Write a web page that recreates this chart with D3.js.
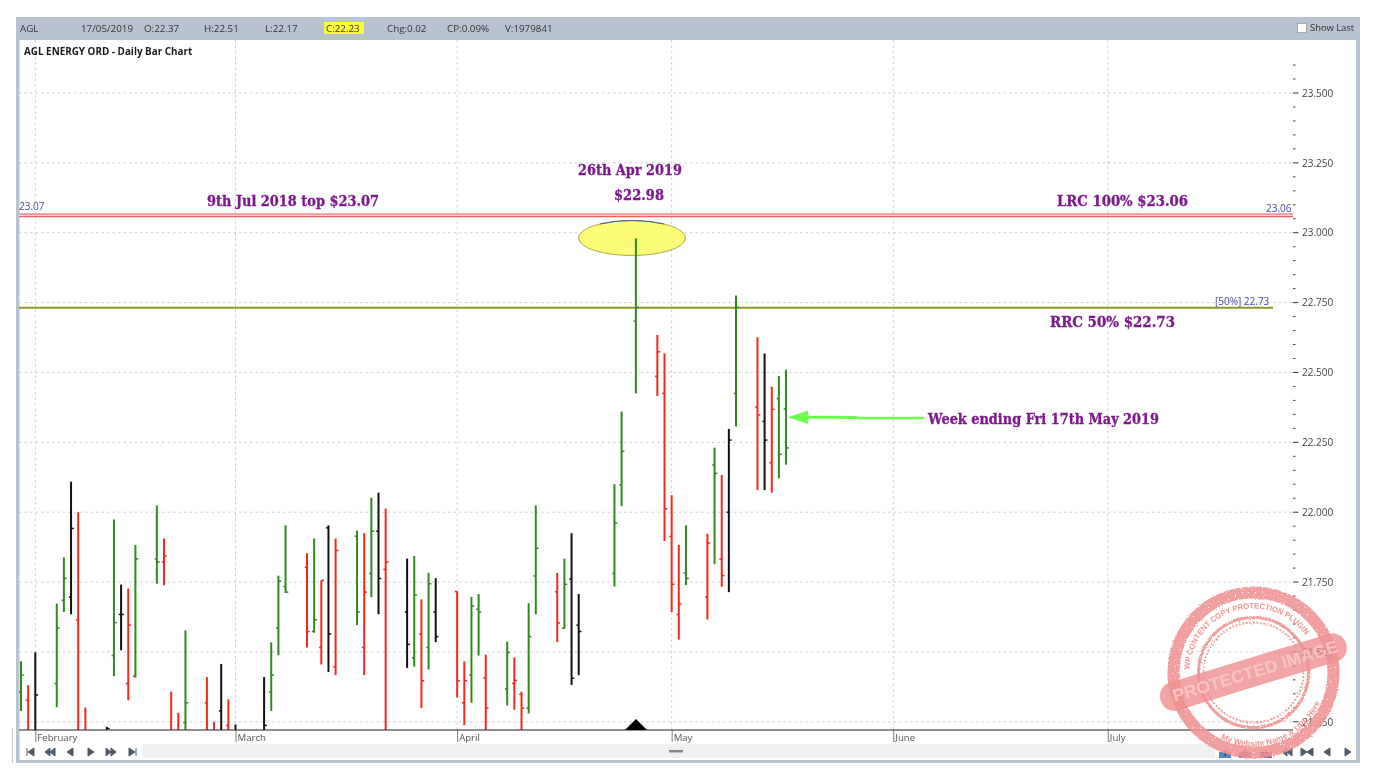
<!DOCTYPE html>
<html><head><meta charset="utf-8">
<script src="https://cdn.jsdelivr.net/npm/d3@7/dist/d3.min.js"></script>
<style>
html,body{margin:0;padding:0;background:#fff;overflow:hidden}
svg{display:block;filter:blur(0.45px)}
text{font-family:"Open Sans","Noto Sans",sans-serif}
</style></head><body><svg id="c" width="1382" height="778"></svg>
<script>
const dates=["2019-01-30","2019-01-31","2019-02-01","2019-02-04","2019-02-05","2019-02-06","2019-02-07","2019-02-08","2019-02-11","2019-02-12","2019-02-13","2019-02-14","2019-02-15","2019-02-18","2019-02-19","2019-02-20","2019-02-21","2019-02-22","2019-02-25","2019-02-26","2019-02-27","2019-02-28","2019-03-01","2019-03-05","2019-03-06","2019-03-07","2019-03-08","2019-03-11","2019-03-12","2019-03-13","2019-03-14","2019-03-15","2019-03-18","2019-03-19","2019-03-20","2019-03-21","2019-03-22","2019-03-25","2019-03-26","2019-03-27","2019-03-28","2019-03-29","2019-04-01","2019-04-02","2019-04-03","2019-04-04","2019-04-05","2019-04-08","2019-04-09","2019-04-10","2019-04-11","2019-04-12","2019-04-15","2019-04-16","2019-04-17","2019-04-18","2019-04-23","2019-04-24","2019-04-26","2019-04-29","2019-04-30","2019-05-01","2019-05-02","2019-05-03","2019-05-06","2019-05-07","2019-05-08","2019-05-09","2019-05-10","2019-05-13","2019-05-14","2019-05-15","2019-05-16","2019-05-17"];
const opens=[21.357,21.327,21.18,21.387,21.685,21.696,21.615,21.19,21.19,21.487,21.634,21.387,21.413,21.833,21.822,21.19,21.19,21.247,21.318,21.19,21.289,21.237,21.19,21.19,21.357,21.586,21.734,21.803,21.573,21.516,21.944,21.447,21.914,21.516,21.781,21.932,21.795,21.643,21.479,21.564,21.516,21.643,21.716,21.318,21.417,21.653,21.407,21.368,21.387,21.348,21.299,21.772,21.715,21.585,21.761,21.596,21.781,22.098,22.684,22.486,22.425,21.913,21.634,21.782,21.696,22.169,21.832,22.0,22.425,22.376,22.325,22.177,22.406,22.37];
const highs=[21.467,21.381,21.499,21.673,21.838,22.109,22.0,21.301,21.232,21.974,21.741,21.727,21.883,22.024,21.906,21.358,21.282,21.577,21.41,21.25,21.457,21.33,21.24,21.41,21.534,21.773,21.953,21.853,21.906,21.756,21.953,21.906,21.934,21.925,22.052,22.07,22.013,21.834,21.844,21.688,21.783,21.764,21.716,21.466,21.697,21.707,21.49,21.537,21.48,21.358,21.674,22.024,21.783,21.834,21.925,21.707,22.1,22.36,22.98,22.634,22.568,22.061,21.883,21.953,21.923,22.231,22.133,22.298,22.775,22.626,22.568,22.449,22.487,22.51];
const lows=[21.289,21.15,21.15,21.302,21.643,21.635,21.15,21.15,21.15,21.413,21.506,21.327,21.408,21.744,21.739,21.15,21.15,21.15,21.15,21.15,21.15,21.15,21.15,21.15,21.289,21.488,21.711,21.516,21.569,21.455,21.428,21.417,21.596,21.417,21.696,21.635,21.15,21.443,21.447,21.299,21.437,21.535,21.337,21.238,21.318,21.487,21.15,21.308,21.293,21.15,21.28,21.635,21.535,21.583,21.382,21.417,21.734,22.022,22.425,22.416,21.897,21.643,21.544,21.739,21.616,21.814,21.733,21.714,22.307,22.079,22.079,22.07,22.121,22.17];
const closes=[21.417,21.18,21.346,21.586,21.763,21.942,21.19,21.19,21.226,21.605,21.634,21.596,21.833,21.822,21.843,21.19,21.19,21.318,21.19,21.19,21.19,21.19,21.19,21.237,21.417,21.753,21.714,21.573,21.615,21.756,21.564,21.863,21.643,21.714,21.932,21.763,21.822,21.527,21.704,21.397,21.744,21.555,21.397,21.397,21.664,21.643,21.299,21.498,21.398,21.299,21.555,21.871,21.604,21.742,21.406,21.573,21.961,22.218,22.733,22.574,22.012,21.742,21.672,21.763,21.89,22.139,21.773,22.258,22.733,22.348,22.258,22.368,22.207,22.23];
const colors=["g","r","k","g","g","k","r","r","k","g","k","r","g","g","r","r","r","g","r","r","k","r","k","k","g","g","g","r","g","r","k","r","g","r","g","k","r","k","g","r","g","k","r","r","g","g","r","g","r","r","g","g","r","g","k","k","g","g","g","r","r","r","r","g","r","g","r","k","g","r","k","r","g","g"];
const palette={g:"#2f8a1e",r:"#f5281e",k:"#111111"};
const majorTicks=[21.25,21.5,21.75,22,22.25,22.5,22.75,23,23.25,23.5];
const minorTicks=d3.range(21.3,23.61,0.05).map(v=>+v.toFixed(2)).filter(v=>!majorTicks.includes(v));
const monthTicks=["2019-02-01","2019-03-01","2019-04-01","2019-05-01","2019-06-01","2019-07-01"];
const headerItems=[["AGL",20],["17/05/2019",81],["O:22.37",144],["H:22.51",204],["L:22.17",265],["C:22.23",326],["Chg:0.02",387],["CP:0.09%",447],["V:1979841",505]];
const annotations=[["26th Apr 2019",578,175,104],["$22.98",614,200,50],["9th Jul 2018 top $23.07",207,206,172],["LRC 100% $23.06",1057,206,131],["RRC 50% $22.73",1050,327,125],["Week ending Fri 17th May 2019",928,424,231]];
const levels=[[23.07,"#ec5f5f"],[23.06,"#ec5f5f"]];

const svg=d3.select("#c");
const parse=d3.utcParse("%Y-%m-%d");
const x=d3.scaleUtc().domain([parse("2019-01-30"),parse("2019-07-27")]).range([21,1293.7]);
const y=d3.scaleLinear().domain([21.25,23.5]).range([721.8,93]);
const L=19,R=1293,T=40,B=730;
// frame
svg.append("rect").attr("x",16).attr("y",17).attr("width",1344).attr("height",746).attr("fill","#b8c3d0");
svg.append("rect").attr("x",19.5).attr("y",40).attr("width",1336.5).attr("height",720).attr("fill","#fff");
svg.append("line").attr("x1",12.5).attr("x2",12.5).attr("y1",728).attr("y2",763).attr("stroke","#c8c8c8");
// grid
svg.append("g").selectAll("line").data(majorTicks).join("line")
 .attr("x1",L).attr("x2",R).attr("y1",d=>y(d)).attr("y2",d=>y(d))
 .attr("stroke","#cfcfcf").attr("stroke-dasharray","2.5 3");
svg.append("g").selectAll("line").data(monthTicks).join("line")
 .attr("x1",d=>x(parse(d))).attr("x2",d=>x(parse(d))).attr("y1",T).attr("y2",B)
 .attr("stroke","#cfcfcf").attr("stroke-dasharray","2.5 3");
// header
const hdr=svg.append("g");
hdr.append("rect").attr("x",324).attr("y",22).attr("width",40).attr("height",12).attr("fill","#fdfd38");
hdr.selectAll("text").data(headerItems).join("text").text(d=>d[0]).attr("x",d=>d[1]).attr("y",32).attr("font-size",9.8).attr("fill","#333");
svg.append("rect").attr("x",1297.5).attr("y",23.5).attr("width",9).attr("height",9).attr("fill","#fff").attr("stroke","#aaa");
svg.append("text").text("Show Last").attr("x",1310).attr("y",31).attr("font-size",9.4).attr("fill","#333");
svg.append("text").text("AGL ENERGY ORD - Daily Bar Chart").attr("x",24).attr("y",55).attr("font-size",9.9).attr("font-weight",700).attr("fill","#1a1a1a");
// bottom strip
svg.append("rect").attr("x",143).attr("y",744).attr("width",1072).attr("height",14).attr("fill","#f0f0f0");
svg.append("rect").attr("x",669).attr("y",750).attr("width",14).attr("height",2.5).attr("fill","#8a8a8a");
// nav glyphs
const nav=[[31,"M-4,-4V4M-3,0L3,-4V4Z"],[50,"M0,0L5,-4V4ZM-5,0L0,-4V4Z"],[70,"M-3,0L3,-4V4Z"],[91,"M3,0L-3,-4V4Z"],[111,"M0,0L-5,-4V4ZM5,0L0,-4V4Z"],[132,"M4,-4V4M3,0L-3,-4V4Z"],[1287,"M0,0L5,-4V4ZM-5,0L0,-4V4Z"],[1307,"M0,0L-6,-4V4ZM0,0L6,-4V4Z"],[1327,"M-3,0L3,-4V4Z"],[1348,"M3,0L-3,-4V4Z"]];
svg.append("g").selectAll("path").data(nav).join("path").attr("transform",d=>`translate(${d[0]},752)`).attr("d",d=>d[1]).attr("fill","#4c5a68").attr("stroke","#4c5a68").attr("stroke-width",1);
// bottom-right icons
const ic=[["T",1225,"#4d86c8"],["C",1245,"#8a6aa8"],["I",1266,"#8a5a90"]];
const ig=svg.append("g").selectAll("g").data(ic).join("g").attr("transform",d=>`translate(${d[1]},752)`);
ig.append("rect").attr("x",-6).attr("y",0).attr("width",12).attr("height",6).attr("fill",d=>d[2]);
ig.append("text").text(d=>d[0]).attr("x",0).attr("y",4).attr("text-anchor","middle").attr("font-size",9).attr("font-weight",700).attr("fill","#433");
// levels
svg.append("rect").attr("x",L).attr("y",214).attr("width",R-L).attr("height",2.6).attr("fill","#fbd0d0");
svg.append("g").selectAll("line").data(levels).join("line").attr("x1",L).attr("x2",R).attr("y1",(d,i)=>214+i*2.6).attr("y2",(d,i)=>214+i*2.6).attr("stroke",d=>d[1]).attr("stroke-width",1.2);
svg.append("line").attr("x1",L).attr("x2",1273).attr("y1",y(22.73)-.5).attr("y2",y(22.73)-.5).attr("stroke","#8f982a").attr("stroke-width",2);
// ellipse
svg.append("ellipse").attr("cx",632).attr("cy",238).attr("rx",53.5).attr("ry",17.5).attr("fill","#fdfd78").attr("stroke","#a9a94a");
svg.append("path").attr("d","M600,224A53.5,17.5 0 0 1 664,224").attr("fill","none").attr("stroke","#5050a8");
// clip + bars
svg.append("clipPath").attr("id","pl").append("rect").attr("x",L).attr("y",T).attr("width",R-L).attr("height",B-T);
const bars=svg.append("g").attr("clip-path","url(#pl)");
const ohlc=dates.map((d,i)=>({d:parse(d),o:opens[i],h:highs[i],l:lows[i],c:closes[i],k:colors[i]}));
const g=bars.selectAll("g").data(ohlc).join("g").attr("stroke",d=>palette[d.k]);
g.append("line").attr("x1",d=>x(d.d)).attr("x2",d=>x(d.d)).attr("y1",d=>y(d.h)).attr("y2",d=>y(d.l)).attr("stroke-width",2);
g.append("line").attr("x1",d=>x(d.d)-2.3).attr("x2",d=>x(d.d)).attr("y1",d=>y(d.o)).attr("y2",d=>y(d.o)).attr("stroke-width",1.5);
g.append("line").attr("x1",d=>x(d.d)).attr("x2",d=>x(d.d)+2.8).attr("y1",d=>y(d.c)).attr("y2",d=>y(d.c)).attr("stroke-width",1.5);
// axes
const yAx=svg.append("g").attr("transform",`translate(${R+5},0)`).call(d3.axisRight(y).tickValues(majorTicks).tickSize(0).tickPadding(4).tickFormat(d3.format(".3f")));
yAx.select(".domain").remove();
yAx.selectAll("text").attr("font-size",10).attr("fill","#444").attr("font-family",'"Open Sans",sans-serif');
svg.append("g").selectAll("line").data(majorTicks).join("line").attr("x1",R).attr("x2",R+5.5).attr("y1",d=>y(d)).attr("y2",d=>y(d)).attr("stroke","#333");
svg.append("g").selectAll("line").data(minorTicks).join("line").attr("x1",R).attr("x2",R+2.5).attr("y1",d=>y(d)).attr("y2",d=>y(d)).attr("stroke","#444");
const xAx=svg.append("g").attr("transform",`translate(0,${B})`).call(d3.axisBottom(x).tickValues(monthTicks.map(parse)).tickSize(12).tickPadding(-8).tickFormat(d3.utcFormat("%B")));
xAx.select(".domain").remove();
xAx.selectAll("line").attr("stroke","#8a7a60");
xAx.selectAll("text").attr("text-anchor","start").attr("dx",1.5).attr("dy",0).attr("y",11).attr("font-size",9.6).attr("fill","#555").attr("font-family",'"Open Sans",sans-serif');
svg.append("line").attr("x1",L).attr("x2",R).attr("y1",B).attr("y2",B).attr("stroke","#222").attr("stroke-width",1.2);
svg.append("path").attr("d","M625,730L636,719L647,730Z").attr("fill","#000");
// level labels
const lab=svg.append("g").attr("font-size",10).attr("fill","#4848a8");
lab.append("text").text("23.07").attr("x",19).attr("y",210).attr("font-family",'"Open Sans",sans-serif');
lab.append("text").text("23.06").attr("x",1266).attr("y",212).attr("font-family",'"Open Sans",sans-serif');
lab.append("text").text("[50%] 22.73").attr("x",1215).attr("y",305).attr("font-family",'"Open Sans",sans-serif');
// annotations
svg.append("g").selectAll("text").data(annotations).join("text").text(d=>d[0]).attr("x",d=>d[1]).attr("y",d=>d[2])
 .attr("textLength",d=>d[3]).attr("lengthAdjust","spacingAndGlyphs")
 .style("font-family",'"DejaVu Serif","Liberation Serif",serif').style("font-weight",700).style("font-size","15.5px").attr("fill","#7d1a8c").attr("stroke","#7d1a8c").attr("stroke-width",.35);
// arrow
svg.append("line").attr("x1",924).attr("x2",857).attr("y1",418).attr("y2",418).attr("stroke","#6cff4c").attr("stroke-width",2.4);
svg.append("line").attr("x1",857).attr("x2",806).attr("y1",417.6).attr("y2",417.3).attr("stroke","#6cff4c").attr("stroke-width",3);
svg.append("path").attr("d","M788,417.3L808,410.5V424Z").attr("fill","#6cff4c");
// stamp
const defs=svg.append("defs");
const f=defs.append("filter").attr("id","rough").attr("x","-10%").attr("y","-10%").attr("width","120%").attr("height","120%");
f.append("feTurbulence").attr("type","fractalNoise").attr("baseFrequency",.6).attr("numOctaves",2).attr("seed",4).attr("result","n");
f.append("feDisplacementMap").attr("in","SourceGraphic").attr("in2","n").attr("scale",3).attr("result","d");
f.append("feColorMatrix").attr("in","n").attr("type","matrix").attr("values","0 0 0 0 0 0 0 0 0 0 0 0 0 0 0 0 0 0 -9 7.2").attr("result","m");
f.append("feComposite").attr("in","d").attr("in2","m").attr("operator","in");
const st=svg.append("g").attr("transform","translate(1253.5,672.5)").attr("opacity",.9);
const pink="#ef9494";
const rough=st.append("g").attr("filter","url(#rough)");
rough.append("circle").attr("r",80).attr("fill","none").attr("stroke",pink).attr("stroke-width",12);
rough.append("circle").attr("r",55).attr("fill","none").attr("stroke",pink).attr("stroke-width",3);
rough.append("circle").attr("r",50).attr("fill","none").attr("stroke",pink).attr("stroke-width",2).attr("stroke-dasharray","2 1.5");
defs.append("path").attr("id","arcTop").attr("d","M-64,-3A64,64 0 0 1 52.4,-36.7");
defs.append("path").attr("id","arcBot").attr("d","M-33,66A73,73 0 0 0 68,26");
st.append("text").attr("font-size",8).attr("font-weight",700).attr("fill","#ec8a8a").style("font-family",'"Liberation Sans",sans-serif').append("textPath").attr("href","#arcTop").attr("textLength",158).attr("lengthAdjust","spacingAndGlyphs").text("WP CONTENT COPY PROTECTION PLUGIN");
st.append("text").attr("font-size",8).attr("font-weight",700).attr("fill","#ec8a8a").style("font-family",'"Liberation Sans",sans-serif').append("textPath").attr("href","#arcBot").attr("textLength",118).attr("lengthAdjust","spacingAndGlyphs").text("My Website Name & URL Here");
const band=st.append("g").attr("transform","rotate(-17)");
band.append("rect").attr("x",-97).attr("y",-15).attr("width",194).attr("height",29).attr("rx",14).attr("fill","#ee8686").attr("fill-opacity",.82);
band.append("text").text("PROTECTED IMAGE").attr("x",-84).attr("y",5).attr("textLength",172).attr("lengthAdjust","spacingAndGlyphs").attr("font-size",17).attr("font-weight",700).attr("fill","#f7c0ba").style("font-family",'"Liberation Sans",sans-serif');
</script></body></html>
